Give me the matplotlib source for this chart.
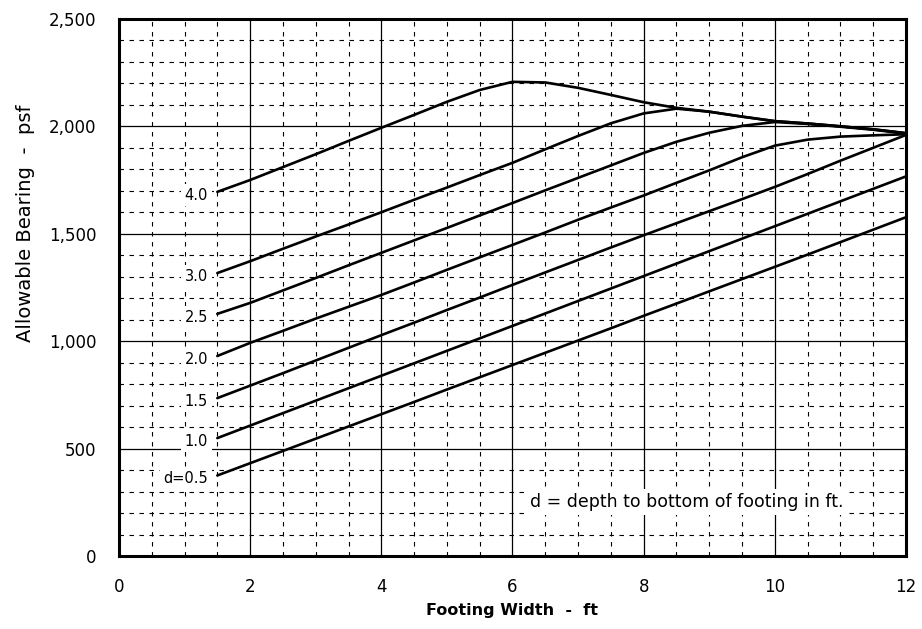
import matplotlib.pyplot as plt

plt.rcParams['font.family'] = ['DejaVu Sans']

# footing width (ft) and allowable bearing (psf), one list per depth d
width_ft = [1.5, 2, 2.5, 3, 3.5, 4, 4.5, 5, 5.5, 6, 6.5, 7, 7.5, 8, 8.5, 9, 9.5, 10, 10.5, 11, 11.5, 12]

bearing_d05 = [375, 432, 489, 546, 603, 660, 717, 775, 832, 889, 946, 1003, 1060, 1118, 1175, 1232, 1289, 1346, 1403, 1461, 1519, 1577]
bearing_d10 = [549, 607, 665, 723, 781, 839, 897, 955, 1013, 1071, 1129, 1187, 1245, 1303, 1361, 1419, 1477, 1535, 1593, 1651, 1709, 1767]
bearing_d15 = [735, 793, 851, 910, 969, 1028, 1086, 1145, 1203, 1262, 1320, 1378, 1436, 1493, 1549, 1605, 1661, 1718, 1778, 1840, 1900, 1960]
bearing_d20 = [931, 992, 1048, 1105, 1160, 1215, 1273, 1332, 1390, 1448, 1506, 1565, 1622, 1678, 1737, 1795, 1856, 1910, 1938, 1952, 1958, 1963]
bearing_d25 = [1127, 1178, 1236, 1294, 1353, 1411, 1469, 1527, 1585, 1643, 1702, 1760, 1818, 1876, 1928, 1970, 2002, 2020, 2011, 1998, 1984, 1966]
bearing_d30 = [1317, 1372, 1430, 1487, 1543, 1600, 1658, 1715, 1773, 1830, 1893, 1955, 2014, 2060, 2082, 2068, 2045, 2024, 2013, 2000, 1986, 1968]
bearing_d40 = [1695, 1750, 1810, 1870, 1932, 1993, 2053, 2114, 2169, 2207, 2204, 2179, 2146, 2112, 2086, 2068, 2045, 2024, 2013, 2000, 1986, 1968]

curve_labels = ['d=0.5', '1.0', '1.5', '2.0', '2.5', '3.0', '4.0']
curves = [bearing_d05, bearing_d10, bearing_d15, bearing_d20, bearing_d25, bearing_d30, bearing_d40]

x_ticks = [0, 2, 4, 6, 8, 10, 12]
y_ticks = [0, 500, 1000, 1500, 2000, 2500]
y_tick_labels = ['0', '500', '1,000', '1,500', '2,000', '2,500']

fig = plt.figure(figsize=(9.22, 6.29), dpi=100)
ax = fig.add_axes([0.129, 0.116, 0.8537, 0.854])

for lab, vals in zip(curve_labels, curves):
    ax.plot(width_ft, vals, color='black', lw=1.9, solid_capstyle='round', zorder=3)
    ax.text(1.36, vals[0] - 15, lab, ha='right', va='center', fontsize=10.5, zorder=4,
            bbox=dict(facecolor='white', edgecolor='none', pad=2.5))

ax.set_xlim(0, 12)
ax.set_ylim(0, 2500)
ax.set_xticks(x_ticks)
ax.set_yticks(y_ticks)
ax.set_yticklabels(y_tick_labels)
ax.set_xticks([v / 2 for v in range(0, 25)], minor=True)
ax.set_yticks(list(range(0, 2501, 100)), minor=True)

ax.grid(which='major', color='black', lw=0.9, ls='-')
ax.grid(which='minor', color='black', lw=0.8, ls=(0, (4, 5)))
ax.set_axisbelow(True)

ax.tick_params(which='both', length=0, labelsize=12)
ax.tick_params(axis='x', pad=16)
ax.tick_params(axis='y', pad=16)

for s in ax.spines.values():
    s.set_linewidth(2.2)
    s.set_color('black')

ax.set_xlabel('Footing Width  -  ft', fontsize=11.5, fontweight='bold', labelpad=5)
ax.set_ylabel('Allowable Bearing  -  psf', fontsize=14)
ax.yaxis.set_label_coords(-0.107, 0.62)

ax.text(8.66, 251, 'd = depth to bottom of footing in ft.', ha='center', va='center',
        fontsize=12.5, zorder=5,
        bbox=dict(facecolor='white', edgecolor='none', pad=3))

fig.savefig('out.png', dpi=100)
